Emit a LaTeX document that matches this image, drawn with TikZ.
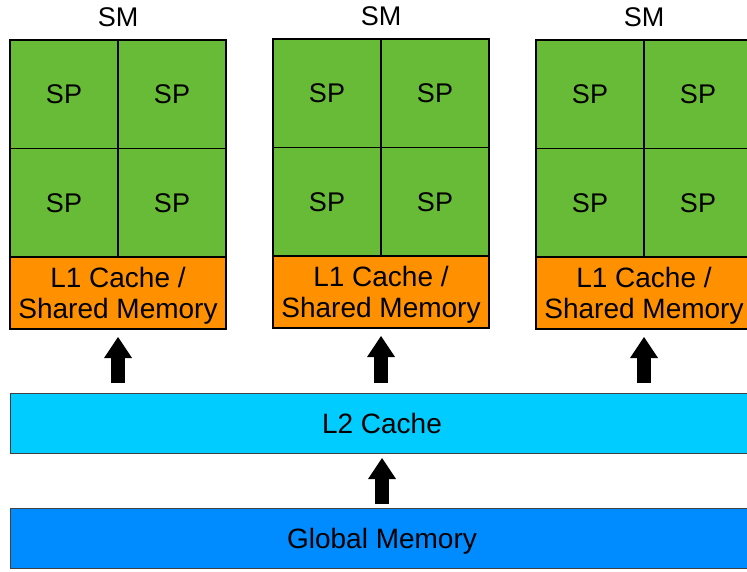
\documentclass[tikz,border=0pt]{standalone}
\usepackage{fontspec}
\setmainfont{Liberation Sans}
\usetikzlibrary{arrows.meta}

\definecolor{spgreen}{RGB}{103,187,55}
\definecolor{l1orange}{RGB}{255,145,0}
\definecolor{l2cyan}{RGB}{0,204,255}
\definecolor{globblue}{RGB}{0,140,255}

\begin{document}
\begin{tikzpicture}[x=1pt, y=-1pt,
  sp/.style={draw, line width=1.2pt, fill=spgreen, minimum width=108pt,
    minimum height=108.5pt, inner sep=0pt, outer sep=0pt,
    font=\fontsize{27}{30}\selectfont},
  l1/.style={draw, line width=1.2pt, fill=l1orange, minimum width=216pt,
    minimum height=72pt, inner sep=0pt, outer sep=0pt, align=center,
    text depth=0pt, font=\fontsize{28}{31}\selectfont},
  membox/.style={draw=black!75, line width=1pt, minimum width=744pt,
    minimum height=60pt, inner sep=0pt, outer sep=0pt, text depth=0pt,
    font=\fontsize{28}{31}\selectfont},
  bigarrow/.style={line width=14pt,
    -{Triangle[length=21pt, width=28pt, line width=0pt]}}
]
\clip (0,0) rectangle (747,572);

% three SMs, each a 2x2 grid of SPs over its L1
\foreach \i/\x/\t in {1/10/40, 2/273/39, 3/536/40} {
  \node[sp, anchor=north west] (sp\i a) at (\x,\t) {SP};
  \node[sp, anchor=north west] (sp\i b) at (sp\i a.north east) {SP};
  \node[sp, anchor=north west] (sp\i c) at (sp\i a.south west) {SP};
  \node[sp, anchor=north west] (sp\i d) at (sp\i c.north east) {SP};
  \node[l1, anchor=north west] (l1\i) at (sp\i c.south west)
    {L1 Cache /\\Shared Memory};
  \node[font=\fontsize{27}{30}\selectfont] (smlabel\i)
    at ([yshift=23pt]sp\i a.north east) {SM};
}

% shared levels
\node[membox, fill=l2cyan, anchor=north west] (l2) at (10,393) {L2 Cache};
\node[membox, fill=globblue, anchor=north west] (glob) at (10,508) {Global Memory};

% data flow upwards
\foreach \i in {1,2,3}
  \draw[bigarrow, shorten <=10pt, shorten >=8pt] (l1\i.south |- l2.north) -- (l1\i.south);
\draw[bigarrow, shorten <=4pt, shorten >=5pt] (glob.north) -- (l2.south);
\end{tikzpicture}
\end{document}
